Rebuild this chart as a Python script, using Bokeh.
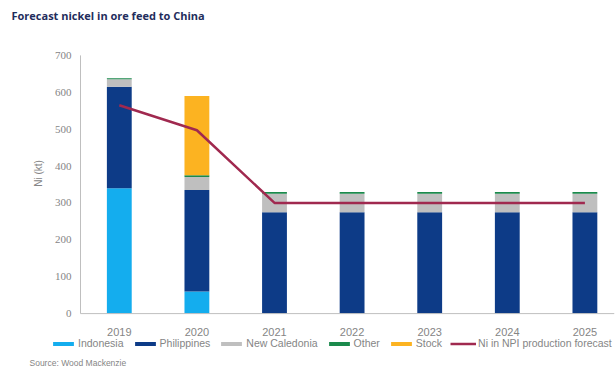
import math
from bokeh.plotting import figure
from bokeh.layouts import column
from bokeh.models import (ColumnDataSource, Range1d, FixedTicker, Legend, LegendItem, Label)
from bokeh.embed import file_html
from bokeh.resources import INLINE

years = ["2019", "2020", "2021", "2022", "2023", "2024", "2025"]
indonesia = [340, 60, 0, 0, 0, 0, 0]
philippines = [275, 275, 275, 275, 275, 275, 275]
new_caledonia = [20, 35, 50, 50, 50, 50, 50]
other = [3, 5, 5, 5, 5, 5, 5]
stock = [0, 215, 0, 0, 0, 0, 0]
npi_forecast = [565, 497, 300, 300, 300, 300, 300]
y_ticks = [0, 100, 200, 300, 400, 500, 600, 700]

series = ["indonesia", "philippines", "new_caledonia", "other", "stock"]
names = ["Indonesia", "Philippines", "New Caledonia", "Other", "Stock"]
colors = ["#14adee", "#0d3b87", "#bfbfbf", "#1b8a4c", "#fcb321"]
line_name = "Ni in NPI production forecast"
line_color = "#a0294f"

xs = list(range(len(years)))
source = ColumnDataSource(dict(x=xs, indonesia=indonesia, philippines=philippines,
                               new_caledonia=new_caledonia, other=other, stock=stock,
                               npi=npi_forecast))

FONT = "Liberation Sans"
GREY = "#858585"
AXIS = "#bfbfbf"
W = 616
PX_PER_CAT = 77.6          # horizontal scale of the chart
AXIS_X = 80                # pixel position of the value axis
X0 = -0.5                  # left edge of the first category band
x_start = X0 - AXIS_X / PX_PER_CAT
x_end = x_start + (W - 2) / PX_PER_CAT
Y_PAD = 21.4               # room above/below the value range for tick labels


def strip(h):
    f = figure(width=W, height=h, output_backend="svg", toolbar_location=None,
               x_range=Range1d(0, W), y_range=Range1d(0, h),
               x_axis_type=None, y_axis_type=None,
               min_border_left=0, min_border_right=0, min_border_top=0, min_border_bottom=0,
               outline_line_color=None, background_fill_color="white",
               border_fill_color="white")
    f.xgrid.grid_line_color = None
    f.ygrid.grid_line_color = None
    return f


# title strip
t = strip(28)
t.add_layout(Label(x=11, y=13, x_units="screen", y_units="screen",
                   text="Forecast nickel in ore feed to China", text_font="Open Sans",
                   text_font_size="11px", text_font_style="bold", text_color="#1f2d5c",
                   text_baseline="alphabetic"))

# main chart
p = figure(width=W, height=310, output_backend="svg", toolbar_location=None,
           x_range=Range1d(x_start, x_end),
           y_range=Range1d(y_ticks[0] - Y_PAD, y_ticks[-1] + Y_PAD), y_axis_type=None,
           min_border_left=0, min_border_right=2, min_border_top=19, min_border_bottom=14,
           outline_line_color=None, background_fill_color="white", border_fill_color="white")

bars = p.vbar_stack(series, x="x", width=0.32, color=colors, line_color=None, source=source)
line = p.line("x", "npi", source=source, line_color=line_color, line_width=2.5)

p.xgrid.grid_line_color = None
p.ygrid.grid_line_color = None

# axis lines
p.segment(x0=[X0], y0=[y_ticks[0]], x1=[X0], y1=[y_ticks[-1]], line_color=AXIS, line_width=1)
p.segment(x0=[X0], y0=[y_ticks[0]], x1=[x_end], y1=[y_ticks[0]], line_color=AXIS, line_width=1)

xa = p.xaxis[0]
xa.ticker = FixedTicker(ticks=xs)
xa.major_label_overrides = {i: y for i, y in zip(xs, years)}
xa.axis_line_color = None
xa.major_tick_line_color = None
xa.minor_tick_line_color = None
xa.major_label_text_color = GREY
xa.major_label_text_font = FONT
xa.major_label_text_font_size = "11px"
xa.major_label_standoff = 0

# value axis labels
p.text(x=[X0] * len(y_ticks), y=y_ticks, text=[str(v) for v in y_ticks],
       x_offset=-9, text_align="right", text_baseline="middle",
       text_font=FONT, text_font_size="11px", text_color=GREY)
p.add_layout(Label(x=X0, y=380, x_offset=-42, text="Ni (kt)", angle=math.pi / 2,
                   text_align="center", text_baseline="middle", text_font=FONT,
                   text_font_size="10px", text_color=GREY))

# legend strip below the chart (hidden proxies carry the legend styles)
q = strip(32)
proxies = q.vbar_stack(series, x="x", width=0.32, color=colors, line_color=None,
                       source=source, visible=False)
proxy_line = q.line("x", "npi", source=source, line_color=line_color, line_width=2.5,
                    visible=False)
items = [LegendItem(label=n, renderers=[r]) for n, r in zip(names, proxies)]
items.append(LegendItem(label=line_name, renderers=[proxy_line]))
legend = Legend(items=items, orientation="horizontal", location=(50, 21),
                label_text_font=FONT, label_text_font_size="10.5px", label_text_color=GREY,
                glyph_width=26, glyph_height=5, label_standoff=2, spacing=8,
                padding=0, margin=0, border_line_color=None, background_fill_alpha=0,
                label_height=10, click_policy="none")
q.add_layout(legend, "center")
q.add_layout(Label(x=29, y=3, x_units="screen", y_units="screen",
                   text="Source: Wood Mackenzie", text_font=FONT,
                   text_font_size="8.5px", text_color=GREY))

layout = column(t, p, q, spacing=0)
open("out.html", "w").write(file_html(layout, INLINE))
